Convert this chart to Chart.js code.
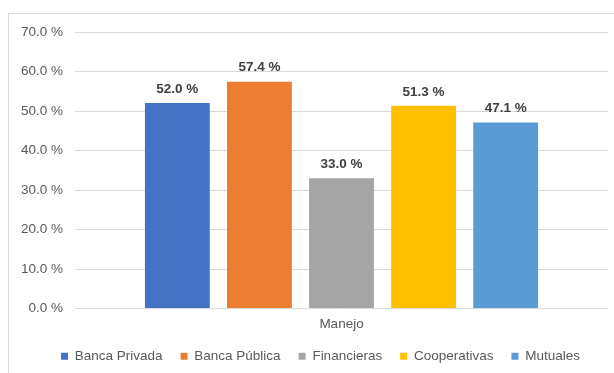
<!DOCTYPE html>
<html>
<head>
<meta charset="utf-8">
<script src="https://cdn.jsdelivr.net/npm/chart.js@4"></script>
<style>
  html, body { margin: 0; padding: 0; background: #fff; }
  #wrap { position: relative; width: 614px; height: 373px; overflow: hidden; }
  #frame { position: absolute; left: 8px; top: 13px; width: 700px; height: 400px; border: 1px solid #d9d9d9; box-sizing: border-box; }
  canvas { position: absolute; left: 0; top: 0; }
</style>
</head>
<body>
<div id="wrap">
  <div id="frame"></div>
  <canvas id="graph" width="614" height="373"></canvas>
</div>
<script>
// one group, one bar per kind of institution
var categories = ['Manejo'];
var series = ['Banca Privada', 'Banca Pública', 'Financieras', 'Cooperativas', 'Mutuales'];
var values = [52.0, 57.4, 33.0, 51.3, 47.1];
var colors = ['#4472c4', '#ed7d31', '#a5a5a5', '#ffc000', '#5b9bd5'];
var yTicks = [0, 10, 20, 30, 40, 50, 60, 70];

Chart.defaults.font.family = '"Liberation Sans", Arial, sans-serif';
Chart.defaults.font.size = 13.5;
Chart.defaults.color = '#595959';

// value labels above each bar
var barLabels = {
  id: 'barLabels',
  afterDatasetsDraw: function(chart) {
    var ctx = chart.ctx;
    ctx.save();
    ctx.font = 'bold 13.5px "Liberation Sans", Arial, sans-serif';
    ctx.fillStyle = '#404040';
    ctx.textAlign = 'center';
    ctx.textBaseline = 'middle';
    chart.data.datasets.forEach(function(ds, i) {
      chart.getDatasetMeta(i).data.forEach(function(bar, j) {
        ctx.fillText(ds.data[j].toFixed(1) + ' %', bar.x, bar.y - 14);
      });
    });
    ctx.restore();
  }
};

// nudge the legend row a bit to the right
var legendShift = {
  id: 'legendShift',
  afterLayout: function(chart) {
    chart.legend.left += 12;
    chart.legend.right += 12;
  }
};

var datasets = series.map(function(name, i) {
  return {
    label: name,
    data: [values[i]],
    backgroundColor: colors[i],
    categoryPercentage: 0.77,
    barPercentage: 0.79
  };
});

var context = document.getElementById('graph').getContext('2d');
const chart = new Chart(context, {
  type: 'bar',
  data: { labels: categories, datasets: datasets },
  plugins: [barLabels, legendShift],
  options: {
    responsive: false,
    animation: false,
    layout: { padding: { left: 9, right: 6, top: 32, bottom: 0 } },
    plugins: {
      tooltip: { enabled: false },
      legend: {
        position: 'bottom',
        labels: {
          boxWidth: 7,
          boxHeight: 7,
          padding: 18,
          color: '#595959',
          font: { size: 13.5 }
        }
      }
    },
    scales: {
      x: {
        grid: { display: false },
        border: { display: false },
        ticks: { padding: 0, color: '#595959' },
        afterFit: function(scale) { scale.height = 23; }
      },
      y: {
        min: 0,
        max: 70,
        afterBuildTicks: function(axis) {
          axis.ticks = yTicks.map(function(v) { return { value: v }; });
        },
        border: { display: false },
        grid: { color: '#d9d9d9', lineWidth: 1, drawTicks: false },
        ticks: {
          padding: 12,
          color: '#595959',
          callback: function(v) { return v.toFixed(1) + ' %'; }
        }
      }
    }
  }
});
</script>
</body>
</html>
